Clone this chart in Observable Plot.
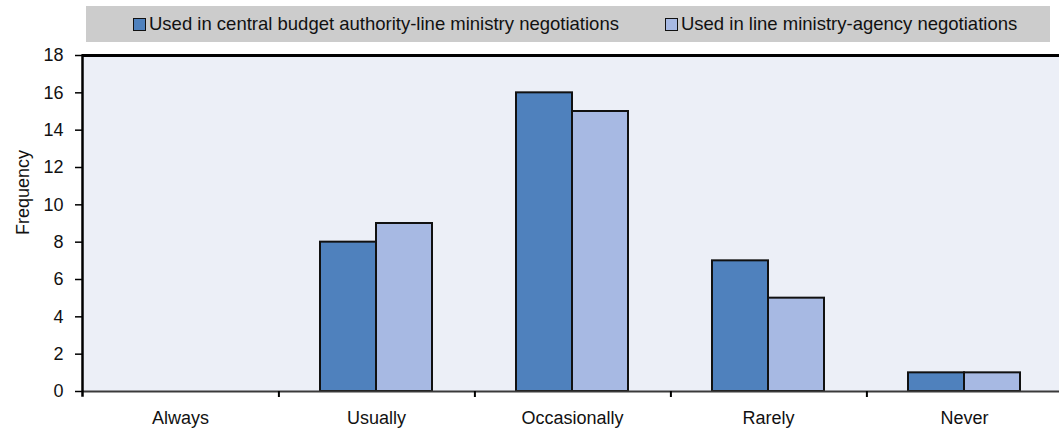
<!DOCTYPE html>
<html>
<head>
<meta charset="utf-8">
<script src="https://cdn.jsdelivr.net/npm/d3@7"></script>
<script src="https://cdn.jsdelivr.net/npm/@observablehq/plot@0.6"></script>
<style>
  html, body { margin: 0; padding: 0; background: #fff; }
  body { width: 1059px; height: 432px; overflow: hidden; font-family: "Liberation Sans", Arial, sans-serif; }
  #legend { margin: 6px 0 0 86px; width: 917px; padding-left: 47px; height: 36px; background: #cccccc;
            display: flex; align-items: center; justify-content: flex-start; gap: 46px;
            font-size: 18.5px; color: #111; }
  .item { display: flex; align-items: center; white-space: nowrap; }
  .sw { width: 11px; height: 11px; border: 1.5px solid #111; margin-right: 3px; }
  #chart svg { display: block; }
</style>
</head>
<body>
<div id="legend"></div>
<div id="chart"></div>
<script>
const categories = ["Always", "Usually", "Occasionally", "Rarely", "Never"];
const seriesNames = [
  "Used in central budget authority-line ministry negotiations",
  "Used in line ministry-agency negotiations"
];
const centralValues = [0, 8, 16, 7, 1];
const agencyValues = [0, 9, 15, 5, 1];
const yTicks = [0, 2, 4, 6, 8, 10, 12, 14, 16, 18];
const seriesColors = ["#4f81bd", "#a7b9e3"];
const yLabel = "Frequency";

const rows = categories.flatMap((c, i) => [
  {category: c, series: seriesNames[0], value: centralValues[i]},
  {category: c, series: seriesNames[1], value: agencyValues[i]}
]);

// Legend
const legend = document.getElementById("legend");
seriesNames.forEach((s, i) => {
  const item = document.createElement("div");
  item.className = "item";
  const sw = document.createElement("span");
  sw.className = "sw";
  sw.style.background = seriesColors[i];
  item.appendChild(sw);
  item.appendChild(document.createTextNode(s));
  legend.appendChild(item);
});

const chart = Plot.plot({
  width: 1059,
  height: 390,
  marginTop: 13,
  marginBottom: 41,
  marginLeft: 80,
  marginRight: -5,
  style: {fontFamily: "'Liberation Sans', Arial, sans-serif", fontSize: "18px", color: "#111", background: "transparent"},
  fx: {domain: categories, padding: 0, label: null},
  x: {domain: seriesNames, paddingInner: 0, paddingOuter: 0.75, axis: null},
  y: {domain: [0, 18], label: null},
  color: {domain: seriesNames, range: seriesColors},
  marks: [
    Plot.frame({fill: "#eceff7", stroke: null, facet: "super"}),
    Plot.barY(rows, {
      fx: "category", x: "series", y: "value", fill: "series",
      stroke: d => d.value > 0 ? "#111" : "none", strokeWidth: 2
    }),
    Plot.ruleY([0], {stroke: "#3a3a3a", strokeWidth: 2}),
    Plot.ruleY([18], {stroke: "#000", strokeWidth: 3}),
    Plot.frame({anchor: "left", stroke: "#000", strokeWidth: 2.5, insetBottom: -4, facet: "super"}),
    Plot.axisY({ticks: yTicks, tickSize: 7, tickPadding: 12, strokeWidth: 1.5, stroke: "#000", label: null}),
    Plot.axisFx({anchor: "bottom", text: null, tickSize: 6, strokeWidth: 2, stroke: "#000", dx: 98.4, label: null}),
    Plot.axisFx({anchor: "bottom", tickSize: 0, tickPadding: 20, label: null}),
    Plot.text([yLabel], {frameAnchor: "left", textAnchor: "middle", dx: -59, dy: -31, rotate: -90, fontSize: 18, fill: "#111", facet: "super"})
  ]
});
document.getElementById("chart").appendChild(chart);
</script>
</body>
</html>
